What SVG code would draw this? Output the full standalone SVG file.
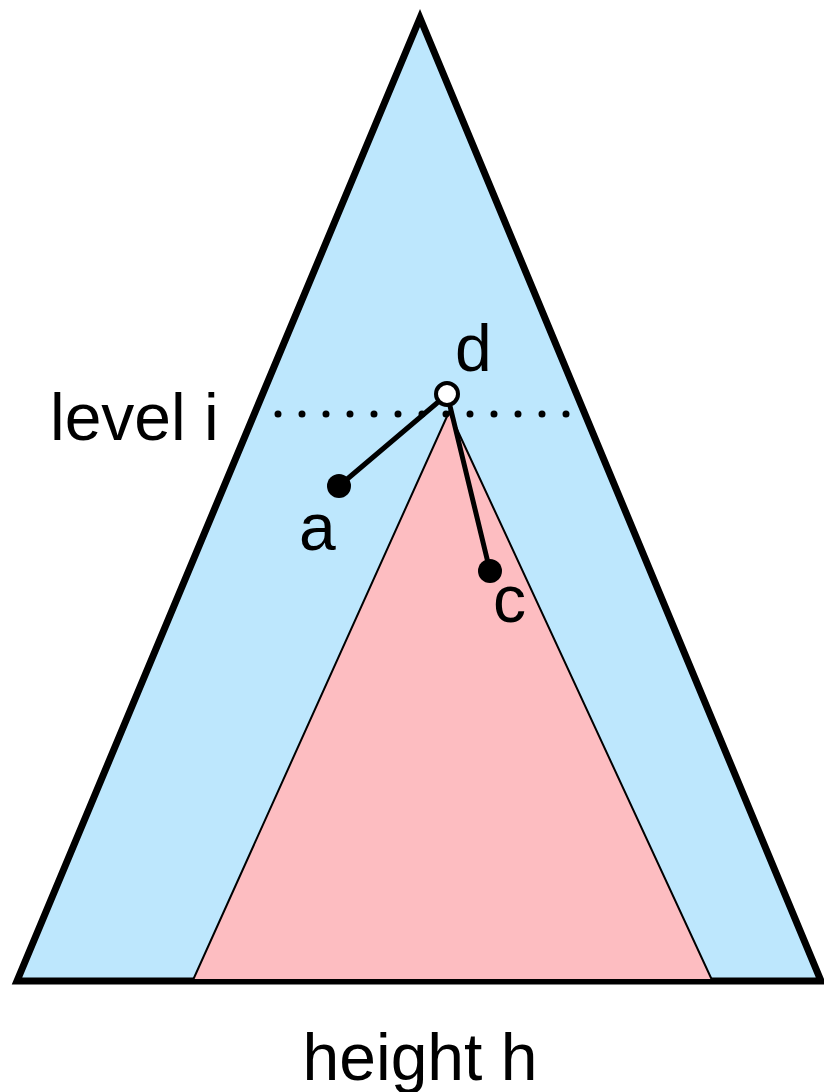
<svg xmlns="http://www.w3.org/2000/svg" width="824" height="1092" viewBox="0 0 824 1092">
<style>
.lbl{font-family:"Liberation Sans",Arial,sans-serif;font-size:66px;fill:#000}
.edge{stroke:#000;stroke-width:5;fill:none;stroke-linecap:round}
</style>
<rect width="824" height="1092" fill="#fff"/>
<g id="outer">
<polygon points="420,18 17,981 821,981" fill="#bde7fd" stroke="#000" stroke-width="7" stroke-linejoin="miter"/>
</g>
<g id="subtree">
<polygon points="449,412 193,980 712,980" fill="#fdbdc1" stroke="#000" stroke-width="2"/>
</g>
<g id="level">
<line x1="278" y1="414" x2="570" y2="414" stroke="#000" stroke-width="7" stroke-linecap="round" stroke-dasharray="0 24"/>
<text class="lbl" x="50" y="440">level i</text>
</g>
<g id="connectors">
<line class="edge" x1="437" y1="403" x2="339" y2="486"/>
<line class="edge" x1="450" y1="406" x2="490" y2="571"/>
</g>
<g id="node-d">
<circle cx="447" cy="394" r="11" fill="#fff" stroke="#000" stroke-width="4"/>
<text class="lbl" x="455" y="371">d</text>
</g>
<g id="node-a">
<circle cx="339" cy="486" r="12" fill="#000"/>
<text class="lbl" x="299" y="550">a</text>
</g>
<g id="node-c">
<circle cx="490" cy="571" r="12" fill="#000"/>
<text class="lbl" x="493" y="622">c</text>
</g>
<g id="caption">
<text class="lbl" x="420" y="1080" text-anchor="middle">height h</text>
</g>
</svg>
